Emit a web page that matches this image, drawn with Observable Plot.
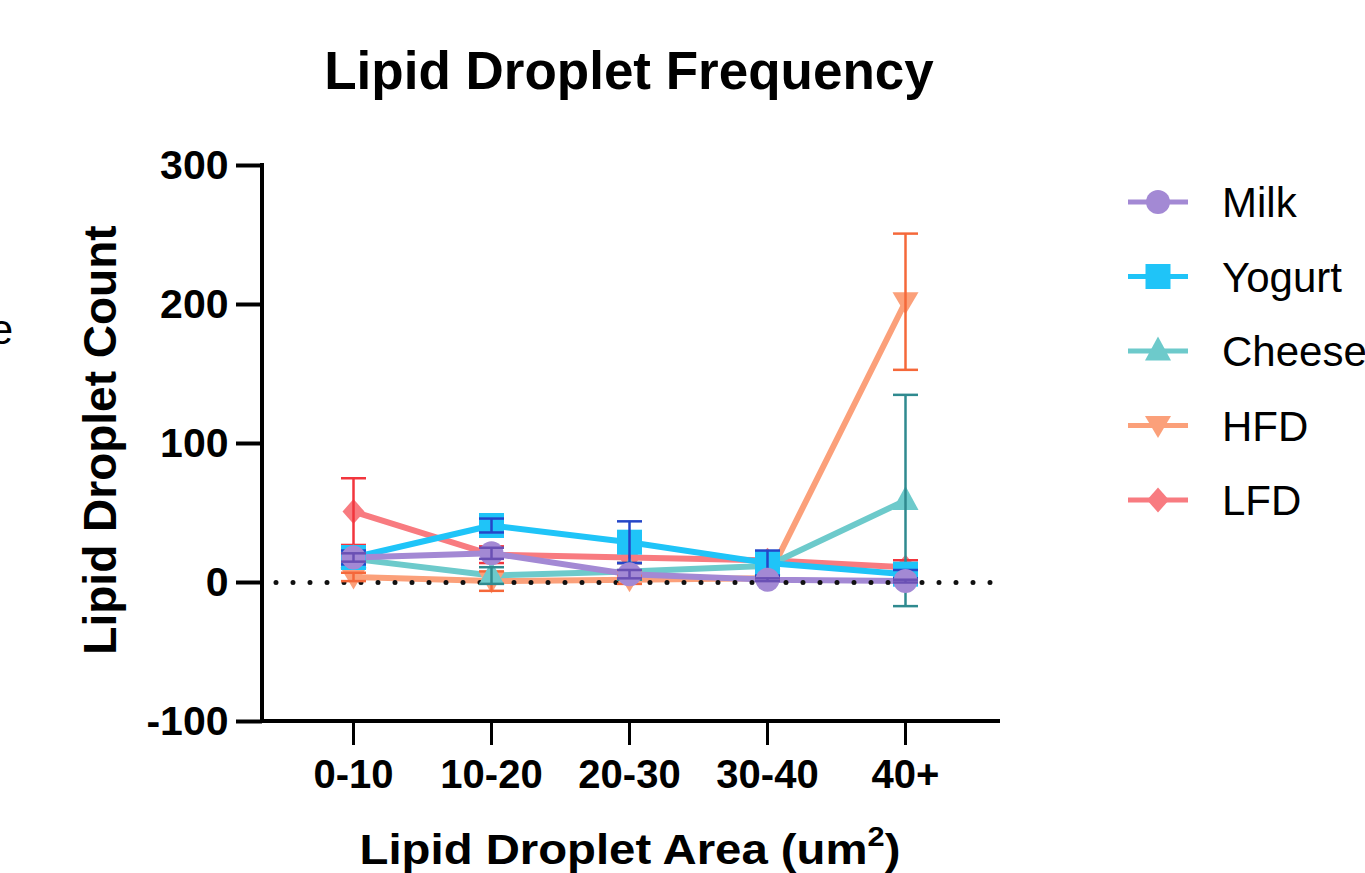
<!DOCTYPE html>
<html>
<head>
<meta charset="utf-8">
<script src="https://cdn.jsdelivr.net/npm/d3@7"></script>
<script src="https://cdn.jsdelivr.net/npm/@observablehq/plot@0.6"></script>
<style>
  html, body { margin: 0; padding: 0; background: #fff; }
  #chart { width: 1365px; height: 873px; overflow: hidden; }
</style>
</head>
<body>
<div id="chart"></div>
<script>
// ---------- data ----------
const categories = ["0-10", "10-20", "20-30", "30-40", "40+"];
const seriesNames = ["Milk", "Yogurt", "Cheese", "HFD", "LFD"];
const milkMean   = [18, 21, 6, 2, 1];
const milkSD     = [3, 4, 3, 1, 1];
const yogurtMean = [18, 41, 29, 14, 6];
const yogurtSD   = [5, 5, 15, 9, 3];
const cheeseMean = [17, 5, 8, 12, 59];
const cheeseSD   = [4, 6, 6, 3, 76];
const hfdMean    = [4, 1, 2, 3, 202];
const hfdSD      = [3, 7, 3, 1, 49];
const lfdMean    = [51, 20, 18, 16, 11];
const lfdSD      = [24, 6, 4, 3, 5];
const yTicks     = [-100, 0, 100, 200, 300];
const titleText  = "Lipid Droplet Frequency";
const yLabelText = "Lipid Droplet Count";
const xLabelText = "Lipid Droplet Area (um";
const xLabelSup  = "2";

// ---------- styles ----------
const FONT = "'Liberation Sans', Arial, Helvetica, sans-serif";
const style = {
  Milk:   {color: "#a389d4", err: "#6a50b4", shape: "circle"},
  Yogurt: {color: "#1fc4f8", err: "#2446c8", shape: "square"},
  Cheese: {color: "#6dcacb", err: "#2f8a8f", shape: "triangleUp"},
  HFD:    {color: "#fba07a", err: "#f5683a", shape: "triangleDown"},
  LFD:    {color: "#f87b80", err: "#f2353d", shape: "diamond"}
};

const means = {Milk: milkMean, Yogurt: yogurtMean, Cheese: cheeseMean, HFD: hfdMean, LFD: lfdMean};
const sds = {Milk: milkSD, Yogurt: yogurtSD, Cheese: cheeseSD, HFD: hfdSD, LFD: lfdSD};

// shape drawers (pixel units)
const shapes = {
  circle: (c) => { c.moveTo(12, 0); c.arc(0, 0, 12, 0, 2 * Math.PI); c.closePath(); },
  square: (c) => { c.moveTo(-12.5, -12.5); c.lineTo(12.5, -12.5); c.lineTo(12.5, 12.5); c.lineTo(-12.5, 12.5); c.closePath(); },
  triangleUp: (c) => { c.moveTo(0, -14.5); c.lineTo(13, 9.5); c.lineTo(-13, 9.5); c.closePath(); },
  triangleDown: (c) => { c.moveTo(0, 12.5); c.lineTo(13, -9.5); c.lineTo(-13, -9.5); c.closePath(); },
  diamond: (c) => { c.moveTo(0, -12.5); c.lineTo(11, 0); c.lineTo(0, 12.5); c.lineTo(-11, 0); c.closePath(); },
  cap: (c) => { c.moveTo(-12.5, 0); c.lineTo(12.5, 0); }
};
const symbolOf = (name) => ({draw(context) { shapes[name](context); }});

// tidy rows
const rows = [];
for (const s of seriesNames) {
  categories.forEach((cat, i) => {
    rows.push({series: s, cat, mean: means[s][i], lo: means[s][i] - sds[s][i], hi: means[s][i] + sds[s][i]});
  });
}
const drawOrder = [...seriesNames].reverse(); // LFD first, Milk on top

const marks = [];
// lines
for (const s of drawOrder) {
  marks.push(Plot.line(rows.filter(d => d.series === s), {
    x: "cat", y: "mean", stroke: style[s].color, strokeWidth: 6, strokeLinejoin: "round"
  }));
}
// dotted zero line
marks.push(Plot.ruleY([0], {stroke: "#111", strokeWidth: 5, strokeDasharray: "0,17", strokeLinecap: "round", insetLeft: 14, insetRight: 8}));
// markers + error bars per series
for (const s of drawOrder) {
  const d = rows.filter(r => r.series === s);
  marks.push(Plot.dot(d, {x: "cat", y: "mean", r: 12, symbol: symbolOf(style[s].shape), fill: style[s].color, stroke: "none"}));
  marks.push(Plot.ruleX(d, {x: "cat", y1: "lo", y2: "hi", stroke: style[s].err, strokeWidth: 2.5}));
  marks.push(Plot.dot(d, {x: "cat", y: "hi", r: 12, symbol: symbolOf("cap"), fill: "none", stroke: style[s].err, strokeWidth: 2.5}));
  marks.push(Plot.dot(d, {x: "cat", y: "lo", r: 12, symbol: symbolOf("cap"), fill: "none", stroke: style[s].err, strokeWidth: 2.5}));
}
// axes
marks.push(Plot.axisY({ticks: yTicks, tickSize: 26, tickPadding: 8, tickFormat: d => String(d),
  fontSize: 41, fontWeight: "bold", strokeWidth: 4, label: null}));
marks.push(Plot.axisX({tickSize: 24, tickPadding: 14, fontSize: 40, fontWeight: "bold", strokeWidth: 3, label: null}));

const plot = Plot.plot({
  width: 1365, height: 873,
  marginLeft: 262, marginRight: 365, marginTop: 165, marginBottom: 152,
  style: {fontFamily: FONT, background: "white", color: "black", overflow: "visible"},
  x: {type: "point", domain: categories, padding: 0.65, insetRight: 5},
  y: {domain: [-100, 300]},
  marks
});

const svg = d3.select(plot);
const ys = plot.scale("y");
const xr = [262, 1365 - 365];

// axis lines
svg.append("line").attr("x1", xr[0]).attr("x2", xr[0]).attr("y1", ys.apply(300) - 2).attr("y2", ys.apply(-100) + 2)
  .attr("stroke", "black").attr("stroke-width", 4);
svg.append("line").attr("x1", xr[0] - 2).attr("x2", xr[1]).attr("y1", ys.apply(-100)).attr("y2", ys.apply(-100))
  .attr("stroke", "black").attr("stroke-width", 4);

// title
svg.append("text").attr("x", 629).attr("y", 89).attr("text-anchor", "middle")
  .attr("font-family", FONT).attr("font-weight", "bold").attr("font-size", 53).text(titleText);

// y label
svg.append("text").attr("transform", "translate(116,440) rotate(-90)").attr("text-anchor", "middle")
  .attr("font-family", FONT).attr("font-weight", "bold").attr("font-size", 46).text(yLabelText);

// x label
const xl = svg.append("text").attr("transform", "translate(630,864) scale(1.1,1)").attr("text-anchor", "middle")
  .attr("font-family", FONT).attr("font-weight", "bold").attr("font-size", 43);
xl.append("tspan").text(xLabelText);
xl.append("tspan").attr("font-size", 28).attr("dy", -18).text(xLabelSup);
xl.append("tspan").attr("dy", 18).text(")");

// cropped stray text at left edge
svg.append("text").attr("x", 13).attr("y", 344).attr("text-anchor", "end")
  .attr("font-family", FONT).attr("font-size", 42).text("e");

// legend
seriesNames.forEach((s, i) => {
  const y = 202 + i * 74.5;
  const g = svg.append("g").attr("transform", `translate(1158,${y})`);
  g.append("line").attr("x1", -30).attr("x2", 30).attr("stroke", style[s].color).attr("stroke-width", 5);
  const p = d3.path();
  shapes[style[s].shape](p);
  g.append("path").attr("d", p.toString()).attr("fill", style[s].color);
  svg.append("text").attr("x", 1222).attr("y", y + 15).attr("text-anchor", "start")
    .attr("font-family", FONT).attr("font-size", 42).text(s);
});

document.getElementById("chart").appendChild(plot);
</script>
</body>
</html>
